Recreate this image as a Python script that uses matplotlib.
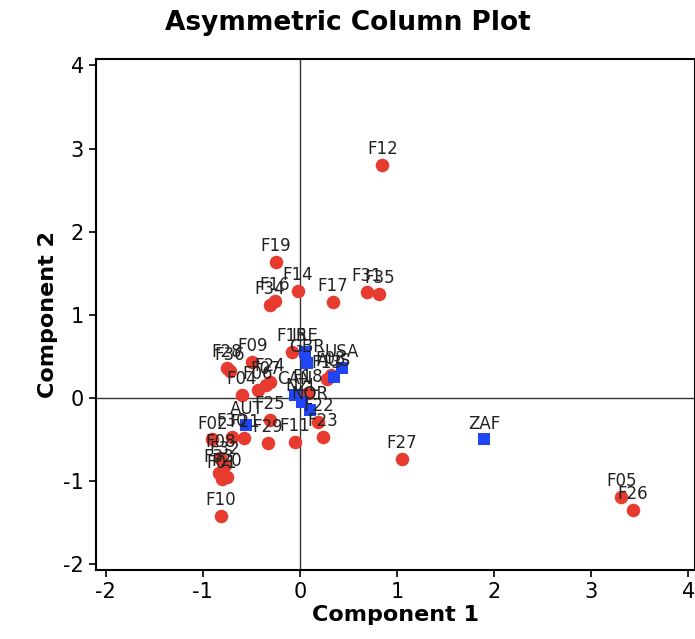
import matplotlib
matplotlib.use("Agg")
import matplotlib.pyplot as plt

plt.rcParams["axes.unicode_minus"] = False

# Red firm points
firm_names = ["F01","F02","F03","F04","F05","F06","F07","F08","F09","F10",
              "F11","F12","F13","F14","F15","F16","F17","F18","F19","F20",
              "F21","F22","F23","F24","F25","F26","F27","F28","F29","F30",
              "F31","F32","F33","F34","F35","F36"]
firm_x = [-0.80,-0.90,0.32,-0.60,3.31,-0.43,-0.35,-0.82,-0.49,-0.81,
          -0.05,0.85,0.28,-0.02,-0.08,-0.26,0.34,0.08,-0.25,-0.75,
          -0.57,0.19,0.24,-0.31,-0.31,3.43,1.05,-0.75,-0.33,-0.70,
          0.69,-0.77,-0.83,-0.31,0.82,-0.72]
firm_y = [-0.98,-0.50,0.28,0.04,-1.19,0.10,0.16,-0.72,0.43,-1.42,
          -0.53,2.80,0.23,1.29,0.55,1.17,1.16,0.06,1.63,-0.95,
          -0.48,-0.29,-0.47,0.19,-0.27,-1.35,-0.73,0.36,-0.54,-0.47,
          1.28,-0.81,-0.90,1.12,1.25,0.32]

# Blue country points
country_names = ["ZAF","AUT","IRE","GBR","USA","AUS","CAN","NZL","NOR"]
country_x = [1.90,-0.55,0.05,0.07,0.43,0.35,-0.05,0.02,0.10]
country_y = [-0.50,-0.33,0.55,0.42,0.36,0.25,0.03,-0.05,-0.14]

fig = plt.figure(figsize=(6.95, 6.39), dpi=100)
ax = fig.add_axes([0.138, 0.108, 0.862, 0.800])

ax.axhline(0, color="#333333", lw=1.0, zorder=1)
ax.axvline(0, color="#333333", lw=1.0, zorder=1)

ax.scatter(firm_x, firm_y, s=95, marker="o", color="#e63b2e", zorder=3, linewidths=0)
ax.scatter(country_x, country_y, s=75, marker="s", color="#1f45f5", zorder=3, linewidths=0)

for n, x, y in zip(firm_names, firm_x, firm_y):
    ax.annotate(n, (x, y), xytext=(0, 5), textcoords="offset points",
                ha="center", va="bottom", fontsize=12, color="#222222", zorder=4)
for n, x, y in zip(country_names, country_x, country_y):
    ax.annotate(n, (x, y), xytext=(0, 5), textcoords="offset points",
                ha="center", va="bottom", fontsize=12, color="#222222", zorder=4)

ax.set_xlim(-2.1, 4.07)
ax.set_ylim(-2.07, 4.08)
ax.set_xticks([-2, -1, 0, 1, 2, 3, 4])
ax.set_yticks([-2, -1, 0, 1, 2, 3, 4])
ax.tick_params(labelsize=15, length=5, width=1.2)
for s in ax.spines.values():
    s.set_linewidth(1.5)

ax.set_xlabel("Component 1", fontsize=16, fontweight="bold", labelpad=2)
ax.set_ylabel("Component 2", fontsize=16, fontweight="bold", labelpad=4)
fig.suptitle("Asymmetric Column Plot", fontsize=19, fontweight="bold", y=0.985)

fig.savefig("out.png", dpi=100)
